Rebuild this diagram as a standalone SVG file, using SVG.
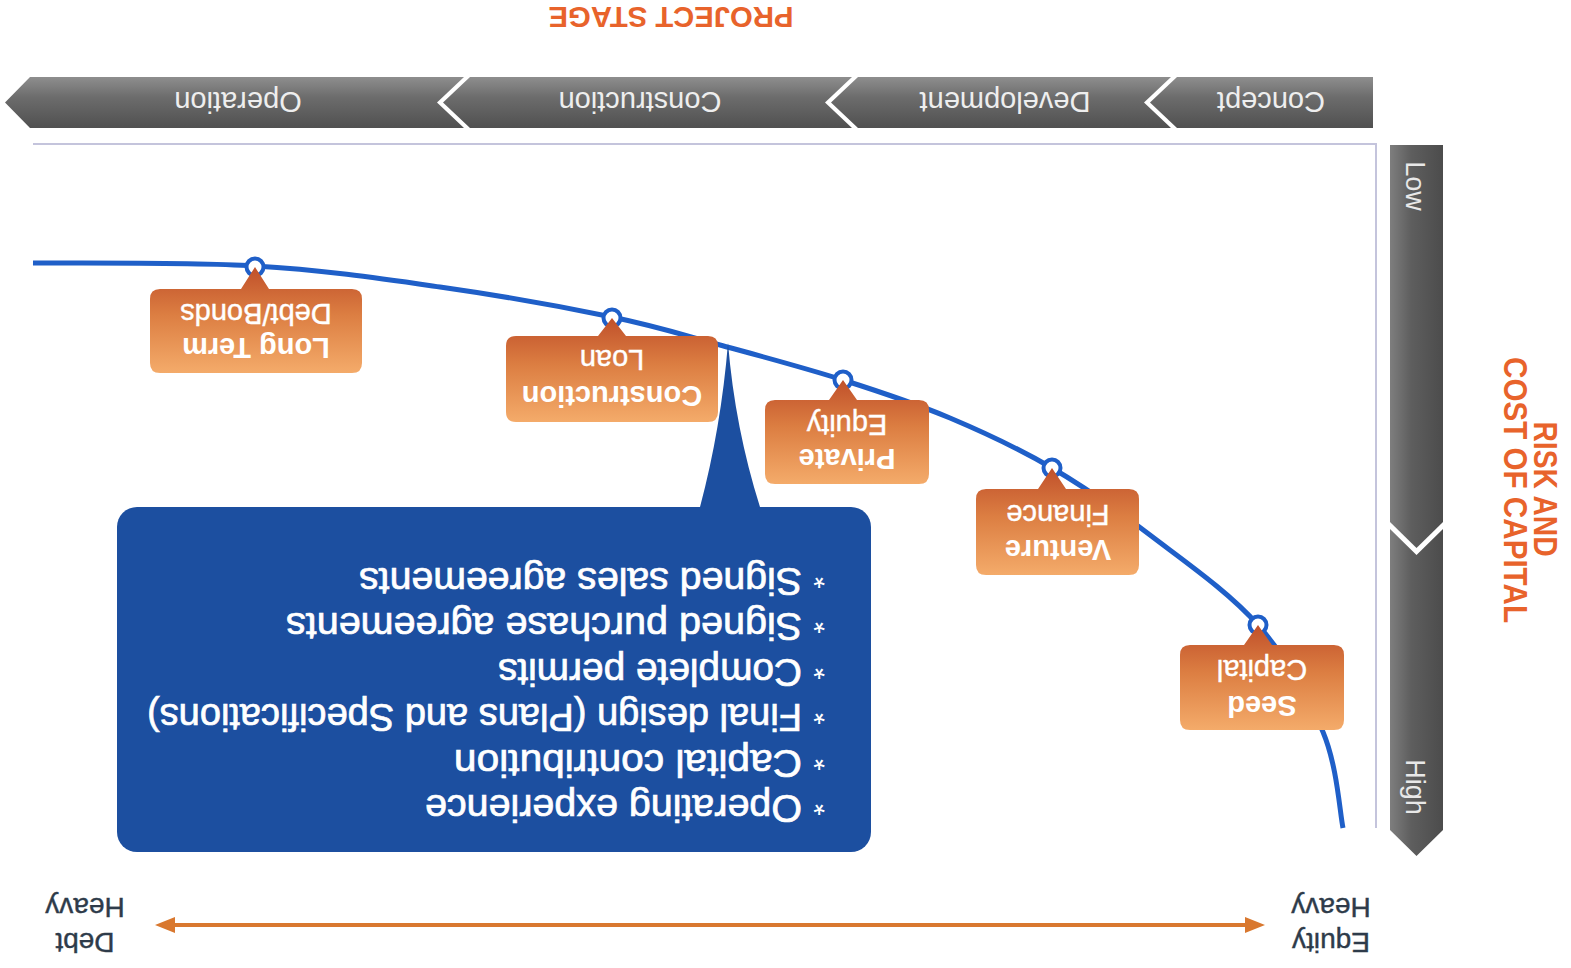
<svg xmlns="http://www.w3.org/2000/svg" width="1571" height="968" viewBox="0 0 1571 968">
<style>
  .f { font-family: "Liberation Sans", Arial, sans-serif; }
  .stage { font-size: 29px; fill: #eeeeee; text-anchor: middle; }
  .bar { font-size: 27px; fill: #e8e8e8; text-anchor: middle; }
  .orange { fill: #e8632b; font-weight: bold; }
  .co1 { font-size: 29px; fill: #ffffff; font-weight: bold; text-anchor: middle; }
  .co2 { font-size: 29px; fill: #ffffff; text-anchor: middle; stroke: #ffffff; stroke-width: 0.4; }
  .req { font-size: 38px; fill: #ffffff; stroke: #ffffff; stroke-width: 0.7; }
  .ast { font-size: 30px; fill: #ffffff; }
  .side { font-size: 28px; fill: #2e3b4a; text-anchor: middle; stroke: #2e3b4a; stroke-width: 0.4; }
  .callout { fill: url(#gOrange); }
  .ring { fill: #ffffff; stroke: #1f5fc8; stroke-width: 4; }
  .frame { stroke: #c4c4dc; stroke-width: 2; fill: none; }
</style>
<defs>
  <linearGradient id="gBanner" x1="0" y1="0" x2="0" y2="1">
    <stop offset="0" stop-color="#505050"/>
    <stop offset="0.6" stop-color="#6c6c6c"/>
    <stop offset="1" stop-color="#8e8e8e"/>
  </linearGradient>
  <linearGradient id="gBar" x1="0" y1="0" x2="1" y2="0">
    <stop offset="0" stop-color="#4c4c4c"/>
    <stop offset="0.6" stop-color="#5e5e5e"/>
    <stop offset="1" stop-color="#7e7e7e"/>
  </linearGradient>
  <linearGradient id="gOrange" x1="0" y1="0" x2="0" y2="1">
    <stop offset="0" stop-color="#f4ab6a"/>
    <stop offset="0.55" stop-color="#dc7e42"/>
    <stop offset="1" stop-color="#c0502a"/>
  </linearGradient>
  <marker id="ah" viewBox="0 0 20 16" markerWidth="20" markerHeight="16" refX="4" refY="8" orient="auto-start-reverse" markerUnits="userSpaceOnUse">
    <path d="M0,0 L20,8 L0,16 Z" fill="#d9782f"/>
  </marker>
</defs>
<g transform="rotate(180 785.5 484)">
  <g id="title">
    <text class="f orange" x="900" y="961" font-size="30" text-anchor="middle" textLength="245" lengthAdjust="spacingAndGlyphs">PROJECT STAGE</text>
  </g>
  <g id="stage-banner">
    <g id="stage-concept">
      <path d="M198,840 H394 L421,865.5 L394,891 H198 Z" fill="url(#gBanner)"/>
      <text class="f stage" x="300" y="876">Concept</text>
    </g>
    <g id="stage-development">
      <path d="M400,840 H713 L740,865.5 L713,891 H400 L427,865.5 Z" fill="url(#gBanner)"/>
      <text class="f stage" x="566" y="876">Development</text>
    </g>
    <g id="stage-construction">
      <path d="M719,840 H1101 L1128,865.5 L1101,891 H719 L746,865.5 Z" fill="url(#gBanner)"/>
      <text class="f stage" x="931" y="876">Construction</text>
    </g>
    <g id="stage-operation">
      <path d="M1107,840 H1541 L1566,865.5 L1541,891 H1107 L1134,865.5 Z" fill="url(#gBanner)"/>
      <text class="f stage" x="1333" y="876">Operation</text>
    </g>
  </g>
  <g id="risk-bar">
    <path d="M128,138 L154.5,112 L181,138 V439 L154.5,413 L128,439 Z" fill="url(#gBar)"/>
    <path d="M128,446 L154.5,420 L181,446 V823 H128 Z" fill="url(#gBar)"/>
    <text class="f bar" transform="translate(165,181) rotate(-90)">High</text>
    <text class="f bar" transform="translate(165,782) rotate(-90)">Low</text>
  </g>
  <g id="risk-label">
    <text class="f orange" font-size="34" text-anchor="middle" transform="translate(37,479) rotate(-90)" textLength="135" lengthAdjust="spacingAndGlyphs">RISK AND</text>
    <text class="f orange" font-size="34" text-anchor="middle" transform="translate(67,478) rotate(-90)" textLength="266" lengthAdjust="spacingAndGlyphs">COST OF CAPITAL</text>
  </g>
  <g id="frame">
    <path class="frame" d="M195,140 V824 H1538"/>
  </g>
  <g id="connectors">
    <path id="curve" d="M228,140 C231.3,156 233.8,202.2 248,236 C262.2,269.8 284.2,310.2 313,343 C341.8,375.8 386.7,406.8 421,433 C455.3,459.2 485.7,480.5 519,500 C552.3,519.5 586.2,535.3 621,550 C655.8,564.7 689.7,575.8 728,588 C766.3,600.2 812.5,612.5 851,623 C889.5,633.5 912.3,641.3 959,651 C1005.7,660.7 1071.5,672.5 1131,681 C1190.5,689.5 1248.2,698 1316,702 C1383.8,706 1501,704.5 1538,705" fill="none" stroke="#1f5fc8" stroke-width="5"/>
    <line id="debt-equity-arrow" x1="322" y1="43" x2="1400" y2="43" stroke="#d9782f" stroke-width="4" marker-start="url(#ah)" marker-end="url(#ah)"/>
    <circle class="ring" cx="1316" cy="701" r="8.5"/>
    <circle class="ring" cx="959" cy="650" r="8.5"/>
    <circle class="ring" cx="728" cy="588" r="8.5"/>
    <circle class="ring" cx="519" cy="500" r="8.5"/>
    <circle class="ring" cx="313" cy="343" r="8.5"/>
  </g>
  <g id="node-long-term">
    <path class="callout" d="M1219,595 H1411 Q1421,595 1421,605 V669 Q1421,679 1411,679 H1330 L1316,701 L1302,679 H1219 Q1209,679 1209,669 V605 Q1209,595 1219,595 Z"/>
    <text class="f co1" x="1315" y="630">Long Term</text>
    <text class="f co2" x="1315" y="664">Debt/Bonds</text>
  </g>
  <g id="node-construction-loan">
    <path class="callout" d="M863,546 H1055 Q1065,546 1065,556 V622 Q1065,632 1055,632 H973 L959,650 L945,632 H863 Q853,632 853,622 V556 Q853,546 863,546 Z"/>
    <text class="f co1" x="959" y="582">Construction</text>
    <text class="f co2" x="959" y="618">Loan</text>
  </g>
  <g id="node-private-equity">
    <path class="callout" d="M652,484 H796 Q806,484 806,494 V558 Q806,568 796,568 H742 L728,588 L714,568 H652 Q642,568 642,558 V494 Q642,484 652,484 Z"/>
    <text class="f co1" x="724" y="519">Private</text>
    <text class="f co2" x="724" y="553">Equity</text>
  </g>
  <g id="node-venture-finance">
    <path class="callout" d="M442,393 H585 Q595,393 595,403 V469 Q595,479 585,479 H533 L519,500 L505,479 H442 Q432,479 432,469 V403 Q432,393 442,393 Z"/>
    <text class="f co1" x="513" y="428">Venture</text>
    <text class="f co2" x="513" y="463">Finance</text>
  </g>
  <g id="node-seed-capital">
    <path class="callout" d="M237,238 H381 Q391,238 391,248 V313 Q391,323 381,323 H327 L313,343 L299,323 H237 Q227,323 227,313 V248 Q227,238 237,238 Z"/>
    <text class="f co1" x="309" y="272">Seed</text>
    <text class="f co2" x="309" y="308">Capital</text>
  </g>
  <g id="node-requirements">
    <path d="M811,461 Q836,540 843,625 Q850,540 871,461 Z" fill="#1c4fa0"/>
    <rect x="700" y="116" width="754" height="345" rx="20" fill="#1c4fa0"/>
    <text class="f ast" x="746" y="173">*</text>
    <text class="f ast" x="746" y="218">*</text>
    <text class="f ast" x="746" y="264">*</text>
    <text class="f ast" x="746" y="309">*</text>
    <text class="f ast" x="746" y="355">*</text>
    <text class="f ast" x="746" y="400">*</text>
    <text class="f req" x="769" y="173" textLength="377" lengthAdjust="spacingAndGlyphs">Operating experience</text>
    <text class="f req" x="769" y="218" textLength="348" lengthAdjust="spacingAndGlyphs">Capital contribution</text>
    <text class="f req" x="769" y="264" textLength="655" lengthAdjust="spacingAndGlyphs">Final design (Plans and Specifications)</text>
    <text class="f req" x="769" y="309" textLength="304" lengthAdjust="spacingAndGlyphs">Complete permits</text>
    <text class="f req" x="769" y="355" textLength="516" lengthAdjust="spacingAndGlyphs">Signed purchase agreements</text>
    <text class="f req" x="769" y="400" textLength="443" lengthAdjust="spacingAndGlyphs">Signed sales agreements</text>
  </g>
  <g id="label-equity-heavy">
    <text class="f side" x="240" y="35">Equity</text>
    <text class="f side" x="240" y="70">Heavy</text>
  </g>
  <g id="label-debt-heavy">
    <text class="f side" x="1486" y="35">Debt</text>
    <text class="f side" x="1486" y="70">Heavy</text>
  </g>
</g>
</svg>
